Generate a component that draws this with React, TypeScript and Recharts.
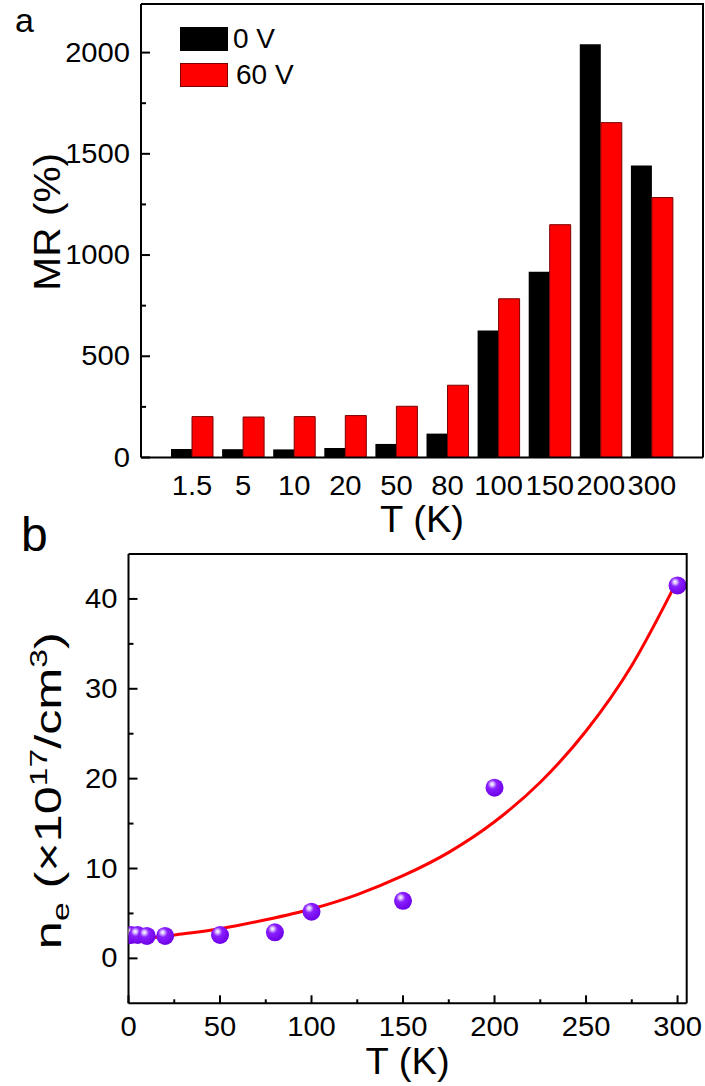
import React from 'react';
import {
  BarChart,
  Bar,
  ComposedChart,
  Scatter,
  Line,
  XAxis,
  YAxis,
  Legend,
} from 'recharts';

// panel a: magnetoresistance per temperature, two gate voltages
const temps = ['1.5', '5', '10', '20', '50', '80', '100', '150', '200', '300'];
const mr0V = [42, 41, 40, 47, 67, 118, 627, 918, 2041, 1442];
const mr60V = [202, 200, 202, 207, 253, 357, 784, 1150, 1654, 1284];
const mrTicks = [0, 250, 500, 750, 1000, 1250, 1500, 1750, 2000];

// panel b: electron density vs temperature, with fitted curve
const densT = [1.5, 5, 10, 20, 50, 80, 100, 150, 200, 300];
const densN = [2.6, 2.6, 2.5, 2.5, 2.6, 2.9, 5.2, 6.4, 19.0, 41.5];
const fitT = [1.5, 25, 50, 75, 100, 125, 150, 175, 200, 225, 250, 275, 299];
const fitN = [2.0, 2.6, 3.3, 4.3, 5.5, 7.1, 9.2, 11.8, 15.2, 19.6, 25.3, 32.6, 41.7];
const nTicks = [0, 5, 10, 15, 20, 25, 30, 35, 40];
const tTicks = [0, 25, 50, 75, 100, 125, 150, 175, 200, 225, 250, 275, 300];

const mrData = temps.map((t, i) => ({ t, v0: mr0V[i], v60: mr60V[i] }));
const densData = densT.map((T, i) => ({ T, n: densN[i] }));
const fitData = fitT.map((T, i) => ({ T, n: fitN[i] }));

const FONT = '"Liberation Sans", Arial, sans-serif';
const AXIS = { stroke: '#000', strokeWidth: 2 };

// plot boxes on the page (left, top, right, bottom), used for the closing frame lines
const BOX_A = { l: 141, t: 4, r: 703, b: 457.5 };
const BOX_B = { l: 128.5, t: 554, r: 686.7, b: 1003.3 };

// widen glyphs along the baseline around the anchor point
const stretch = (x: number, y: number, k: number) => `translate(${x} ${y}) scale(${k} 1) translate(${-x} ${-y})`;

const LeftTick = ({ x, y, payload, majorStep }: any) => {
  const major = payload.value % majorStep === 0;
  return (
    <g>
      <line x1={x} x2={x + (major ? 9 : 5)} y1={y} y2={y} stroke="#000" strokeWidth={2} />
      {major && (
        <text
          x={x - 11}
          y={y}
          transform={stretch(x - 11, y, 1.08)}
          textAnchor="end"
          dominantBaseline="central"
          fontSize={27}
          fontFamily={FONT}
          fill="#000"
        >
          {payload.value}
        </text>
      )}
    </g>
  );
};

const BottomTick = ({ x, y, payload }: any) => {
  const major = payload.value % 50 === 0;
  return (
    <g>
      <line x1={x} x2={x} y1={y} y2={y - (major ? 8 : 4)} stroke="#000" strokeWidth={2} />
      {major && (
        <text
          x={x}
          y={y + 24}
          transform={stretch(x, y, 1.08)}
          textAnchor="middle"
          dominantBaseline="central"
          fontSize={27}
          fontFamily={FONT}
          fill="#000"
        >
          {payload.value}
        </text>
      )}
    </g>
  );
};

const CategoryTick = ({ x, y, payload }: any) => (
  <text
    x={x}
    y={y + 28}
    transform={stretch(x, y, 1.08)}
    textAnchor="middle"
    dominantBaseline="central"
    fontSize={27}
    fontFamily={FONT}
    fill="#000"
  >
    {payload.value}
  </text>
);

const MrTitle = ({ viewBox }: any) => {
  const cx = viewBox.x + 60;
  const cy = viewBox.y + viewBox.height / 2 - 9;
  return (
    <text
      x={cx}
      y={cy}
      transform={`rotate(-90 ${cx} ${cy}) ${stretch(cx, cy, 1.13)}`}
      textAnchor="middle"
      fontSize={36}
      fontFamily={FONT}
      fill="#000"
    >
      MR (%)
    </text>
  );
};

const DensTitle = ({ viewBox }: any) => {
  const cx = viewBox.x + 61;
  const cy = viewBox.y + viewBox.height / 2 + 12;
  return (
    <text
      x={cx}
      y={cy}
      transform={`rotate(-90 ${cx} ${cy}) ${stretch(cx, cy, 1.4)}`}
      textAnchor="middle"
      fontSize={36}
      fontFamily={FONT}
      fill="#000"
    >
      n
      <tspan fontSize={24} dy={8}>e</tspan>
      <tspan dy={-8}> (×10</tspan>
      <tspan fontSize={24} dy={-14}>17</tspan>
      <tspan dy={14}>/cm</tspan>
      <tspan fontSize={24} dy={-14}>3</tspan>
      <tspan dy={14}>)</tspan>
    </text>
  );
};

const TTitle = ({ viewBox, dy }: any) => {
  const cx = viewBox.x + viewBox.width / 2;
  const cy = viewBox.y + dy;
  return (
    <text x={cx} y={cy} transform={stretch(cx, cy, 1.06)} textAnchor="middle" fontSize={36} fontFamily={FONT} fill="#000">
      T (K)
    </text>
  );
};

const swatchStroke = ['#000', '#7a0000'];

const LegendBox = ({ payload }: any) => (
  <div style={{ display: 'flex', flexDirection: 'column', gap: 12, fontFamily: FONT }}>
    {(payload || []).map((p: any, i: number) => (
      <div key={p.value} style={{ display: 'flex', alignItems: 'center', height: 24 }}>
        <span
          style={{
            width: 46,
            height: 22,
            background: p.color,
            border: `1px solid ${swatchStroke[i]}`,
            display: 'inline-block',
          }}
        />
        <span style={{ fontSize: 28, marginLeft: i === 0 ? 5 : 8, lineHeight: '24px' }}>{p.value}</span>
      </div>
    ))}
  </div>
);

const Sphere = ({ cx, cy, index }: any) => {
  const id = `sphere-${index}`;
  return (
    <g>
      <defs>
        <radialGradient id={id} cx="0.4" cy="0.36" r="0.66" fx="0.36" fy="0.3">
          <stop offset="0" stopColor="#ffffff" />
          <stop offset="0.14" stopColor="#dcc4ff" />
          <stop offset="0.38" stopColor="#8a1fff" />
          <stop offset="1" stopColor="#6c00e4" />
        </radialGradient>
      </defs>
      <circle cx={cx} cy={cy} r={9} fill={`url(#${id})`} />
    </g>
  );
};

const frame = (b: { l: number; t: number; r: number; b: number }) => `${b.l},${b.t} ${b.r},${b.t} ${b.r},${b.b}`;

export default function App() {
  return (
    <div style={{ position: 'absolute', left: 0, top: 0, width: 705, height: 1086, background: '#fff' }}>
      <div style={{ position: 'absolute', left: 0, top: 0 }}>
        <BarChart
          width={705}
          height={540}
          data={mrData}
          margin={{ top: 4, right: 2, left: 0, bottom: 0 }}
          barCategoryGap={4.5}
          barGap={0}
        >
          <XAxis
            dataKey="t"
            height={82.5}
            interval={0}
            padding={{ left: 25.5, right: 25.5 }}
            axisLine={AXIS}
            tickLine={false}
            tickSize={0}
            tickMargin={0}
            tick={<CategoryTick />}
            label={{ content: <TTitle dy={74.5} /> }}
          />
          <YAxis
            width={141}
            domain={[0, 2240]}
            ticks={mrTicks}
            interval={0}
            axisLine={AXIS}
            tickLine={false}
            tickSize={0}
            tickMargin={0}
            tick={<LeftTick majorStep={500} />}
            label={{ content: <MrTitle /> }}
          />
          <Legend
            layout="vertical"
            align="center"
            verticalAlign="middle"
            wrapperStyle={{ left: 180, top: 27, width: 'auto' }}
            content={<LegendBox />}
          />
          <Bar dataKey="v0" name="0 V" fill="#000000" isAnimationActive={false} />
          <Bar dataKey="v60" name="60 V" fill="#ff0000" stroke="#7a0000" strokeWidth={1} isAnimationActive={false} />
        </BarChart>
      </div>

      <div style={{ position: 'absolute', left: 0, top: 540 }}>
        <ComposedChart width={705} height={546} data={densData} margin={{ top: 14, right: 18.3, left: 0, bottom: 0 }}>
          <XAxis
            dataKey="T"
            type="number"
            domain={[0, 305]}
            ticks={tTicks}
            interval={0}
            height={82.7}
            allowDataOverflow
            axisLine={AXIS}
            tickLine={false}
            tickSize={0}
            tickMargin={0}
            tick={<BottomTick />}
            label={{ content: <TTitle dy={71} /> }}
          />
          <YAxis
            dataKey="n"
            type="number"
            width={128.5}
            domain={[-5, 45]}
            ticks={nTicks}
            interval={0}
            allowDataOverflow
            axisLine={AXIS}
            tickLine={false}
            tickSize={0}
            tickMargin={0}
            tick={<LeftTick majorStep={10} />}
            label={{ content: <DensTitle /> }}
          />
          <Scatter data={densData} dataKey="n" shape={<Sphere />} isAnimationActive={false} />
          <Line data={fitData} dataKey="n" type="monotone" stroke="#ff0000" strokeWidth={3} dot={false} isAnimationActive={false} />
        </ComposedChart>
      </div>

      {/* panel letters and the top/right frame edges of both plots */}
      <svg width={705} height={1086} style={{ position: 'absolute', left: 0, top: 0, pointerEvents: 'none' }}>
        <polyline points={frame(BOX_A)} fill="none" stroke="#000" strokeWidth={2} />
        <polyline points={frame(BOX_B)} fill="none" stroke="#000" strokeWidth={2} />
        <text x={15} y={32} fontSize={34} fontFamily={FONT} fill="#000">a</text>
        <text x={21} y={551} fontSize={48} fontFamily={FONT} fill="#000">b</text>
      </svg>
    </div>
  );
}
